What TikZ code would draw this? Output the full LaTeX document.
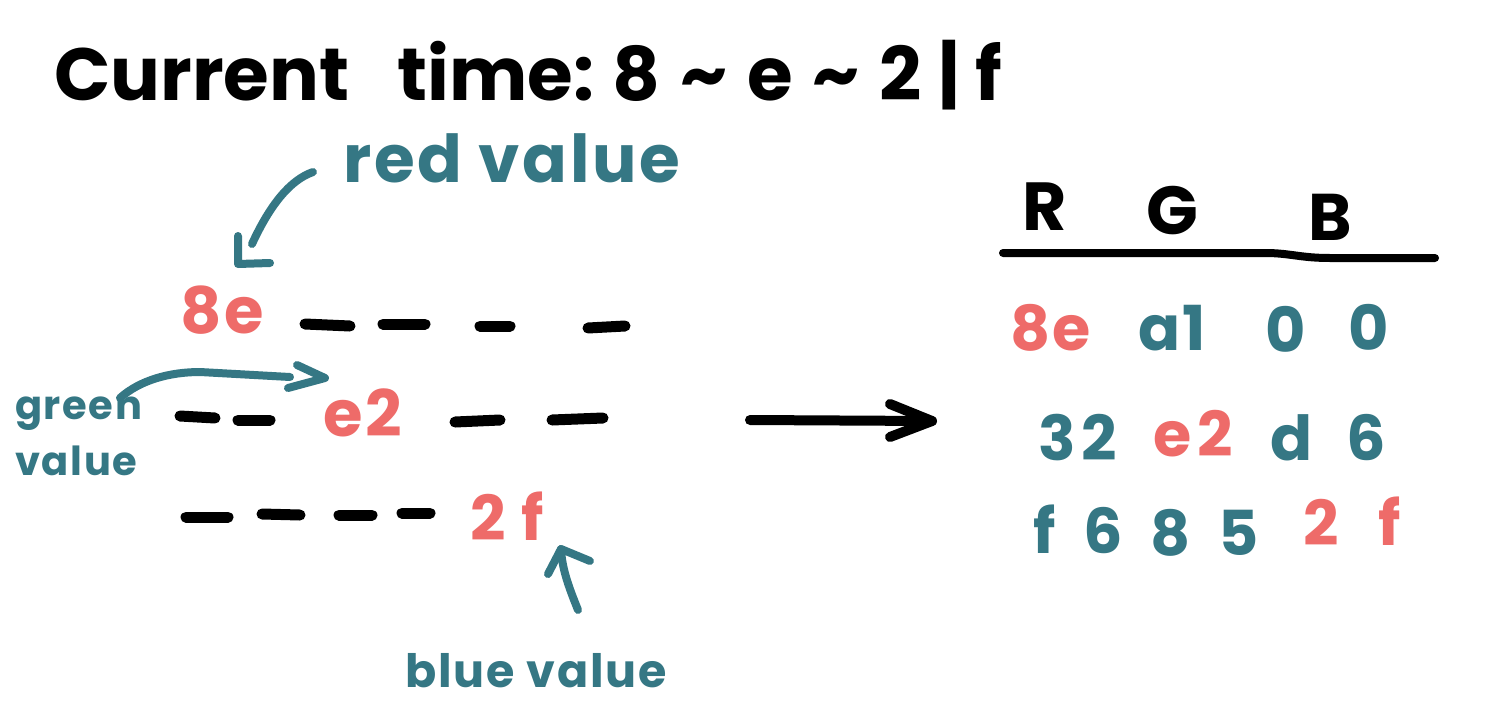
\documentclass[tikz,border=0pt]{standalone}
\usepackage{fontspec}
\setmainfont{Poppins}
\newfontfamily\hand{Poppins}[LetterSpace=4]
\definecolor{hred}{HTML}{EE6B69}
\definecolor{hteal}{HTML}{357784}
\begin{document}
\begin{tikzpicture}[x=1pt,y=-1pt,
  lbl/.style={inner sep=0pt,anchor=base west},
  redtxt/.style={lbl,text=hred},
  tealtxt/.style={lbl,text=hteal},
  blktxt/.style={lbl,text=black},
  dashseg/.style={line width=11pt,line cap=round,black},
  tealarrow/.style={line width=8pt,line cap=round,line join=round,hteal},
  cell/.style={lbl,font=\hand\bfseries\fontsize{62}{62}\selectfont}]
\useasboundingbox (0,0) rectangle (1490,715);
\fill[white] (0,0) rectangle (1490,715);

% title
\node[blktxt,font=\bfseries\fontsize{74}{74}\selectfont] (title) at (54,100) {Current\hspace{48pt}time:\hspace{18pt}8\hspace{20pt}\textasciitilde\hspace{20pt}e\hspace{20pt}\textasciitilde\hspace{20pt}2\hspace{16pt}|\hspace{16pt}f};

% left part
\node[tealtxt,font=\hand\bfseries\fontsize{66}{66}\selectfont] (redlbl) at (343,182) {red value};
\node[redtxt,font=\hand\bfseries\fontsize{64}{64}\selectfont] (r8e) at (180,333) {8e};
\node[redtxt,font=\hand\bfseries\fontsize{64}{64}\selectfont] (re2) at (323,436) {e2};
\node[redtxt,font=\hand\bfseries\fontsize{62}{62}\selectfont] (r2f) at (470,540) {2\hspace{16pt}f};
\node[tealtxt,font=\hand\bfseries\fontsize{40}{56}\selectfont,align=left,anchor=north west] (greenlbl) at (15,397) {green\\value};
\node[tealtxt,font=\hand\bfseries\fontsize{46}{46}\selectfont] (bluelbl) at (405,687) {blue value};

% dashes
\coordinate (d1a) at (305,324); \coordinate (d1b) at (350,326);
\coordinate (d2a) at (383,324); \coordinate (d2b) at (425,324);
\coordinate (d3a) at (480,326); \coordinate (d3b) at (510,326);
\coordinate (d4a) at (588,328); \coordinate (d4b) at (625,326);
\draw[dashseg] (d1a) -- (d1b); \draw[dashseg] (d2a) -- (d2b);
\draw[dashseg] (d3a) -- (d3b); \draw[dashseg] (d4a) -- (d4b);
\coordinate (e1a) at (180,416); \coordinate (e1b) at (215,418);
\coordinate (e2a) at (238,420); \coordinate (e2b) at (270,420);
\coordinate (e3a) at (455,422); \coordinate (e3b) at (500,420);
\coordinate (e4a) at (552,420); \coordinate (e4b) at (603,418);
\draw[dashseg] (e1a) -- (e1b); \draw[dashseg] (e2a) -- (e2b);
\draw[dashseg] (e3a) -- (e3b); \draw[dashseg] (e4a) -- (e4b);
\coordinate (f1a) at (186,517); \coordinate (f1b) at (228,517);
\coordinate (f2a) at (262,514); \coordinate (f2b) at (300,515);
\coordinate (f3a) at (339,515); \coordinate (f3b) at (372,515);
\coordinate (f4a) at (402,513); \coordinate (f4b) at (430,513);
\draw[dashseg] (f1a) -- (f1b); \draw[dashseg] (f2a) -- (f2b);
\draw[dashseg] (f3a) -- (f3b); \draw[dashseg] (f4a) -- (f4b);

% red value arrow
\coordinate (ra0) at (313,172);
\coordinate (ra1) at (252,244);
\coordinate (rtip) at (238,264);
\draw[tealarrow] (ra0) .. controls (290,180) and (270,205) .. (ra1);
\draw[tealarrow] (238,236) -- (rtip) -- (270,263);

% green value arrow
\coordinate (ga0) at (120,398);
\coordinate (ga1) at (290,377);
\coordinate (gtip) at (325,378);
\draw[tealarrow] (ga0) .. controls (140,380) and (170,372) .. (200,372) -- (ga1);
\draw[tealarrow] (297,365) -- (gtip) -- (288,388);

% blue value arrow
\coordinate (ba0) at (578,610);
\coordinate (btip) at (561,549);
\draw[tealarrow] (ba0) .. controls (570,590) and (562,570) .. (btip);
\draw[tealarrow] (548,574) -- (btip) -- (590,561);

% big arrow
\coordinate (bigA) at (750,420);
\coordinate (bigB) at (932,421);
\draw[line width=10pt,line cap=round,line join=round] (bigA) -- (bigB);
\draw[line width=10pt,line cap=round,line join=round] (890,404) -- (bigB) -- (890,437);

% table header
\node[blktxt,font=\hand\bfseries\fontsize{68}{68}\selectfont] (hR) at (1022,230) {R};
\node[blktxt,font=\hand\bfseries\fontsize{68}{68}\selectfont] (hG) at (1146,234) {G};
\node[blktxt,font=\hand\bfseries\fontsize{66}{66}\selectfont] (hB) at (1308,240) {B};
\coordinate (tl0) at (1003,253);
\coordinate (tl1) at (1435,258);
\draw[line width=8pt,line cap=round] (tl0) -- (1265,253) .. controls (1290,253) and (1300,258) .. (1330,258) -- (tl1);

% table rows
\node[cell,text=hred] (c11) at (1010,350) {8e};
\node[cell,text=hteal] (c12) at (1138,350) {a1};
\node[cell,text=hteal] (c13) at (1265,352) {0};
\node[cell,text=hteal] (c14) at (1348,350) {0};
\node[cell,text=hteal] (c21) at (1038,460) {3\hspace{6pt}2};
\node[cell,text=hred] (c22) at (1153,456) {e\hspace{6pt}2};
\node[cell,text=hteal] (c23) at (1270,460) {d\hspace{34pt}6};
\node[cell,text=hteal] (c31) at (1033,553) {f\hspace{28pt}6};
\node[cell,text=hteal] (c32) at (1150,555) {8\hspace{28pt}5};
\node[cell,text=hred] (c33) at (1303,545) {2\hspace{40pt}f};
\end{tikzpicture}
\end{document}
